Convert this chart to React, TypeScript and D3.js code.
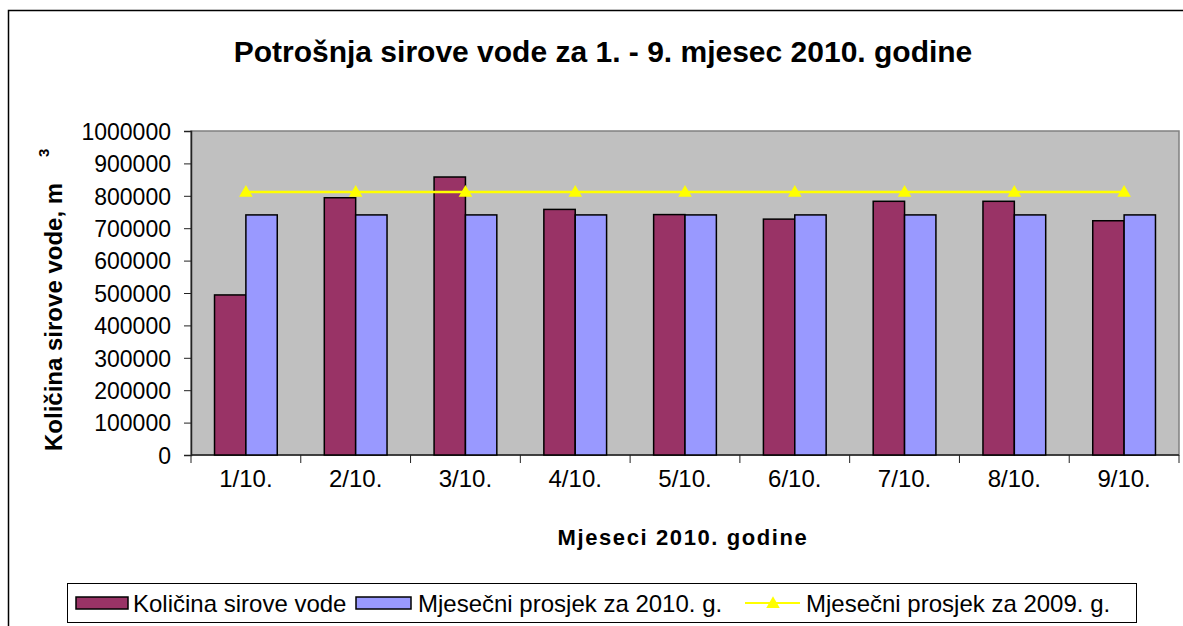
import { useEffect, useRef } from "react";
import * as d3 from "d3";

const months = ["1/10.", "2/10.", "3/10.", "4/10.", "5/10.", "6/10.", "7/10.", "8/10.", "9/10."];
const kolicina = [494000, 794000, 858000, 758000, 742000, 728000, 783000, 783000, 723000];
const prosjek2010 = [741000, 741000, 741000, 741000, 741000, 741000, 741000, 741000, 741000];
const prosjek2009 = [812000, 812000, 812000, 812000, 812000, 812000, 812000, 812000, 812000];
const yTicks = [0, 100000, 200000, 300000, 400000, 500000, 600000, 700000, 800000, 900000, 1000000];
const seriesNames = ["Količina sirove vode", "Mjesečni prosjek za 2010. g.", "Mjesečni prosjek za 2009. g."];

const MAROON = "#993366";
const BLUE = "#9999FF";
const YELLOW = "#FFFF00";
const FONT = "Liberation Sans, Arial, sans-serif";

const App = () => {
  const svgRef = useRef<SVGSVGElement>(null);

  useEffect(() => {
    const svg = d3.select(svgRef.current);
    svg.selectAll("*").remove();

    const left = 191, right = 1179, top = 131, bottom = 455;

    // outer frame of the chart
    svg.append("rect")
      .attr("x", 8.5).attr("y", 10.5)
      .attr("width", 1200).attr("height", 700)
      .attr("fill", "white").attr("stroke", "black").attr("stroke-width", 1.5);

    svg.append("text")
      .attr("x", 603).attr("y", 62)
      .attr("text-anchor", "middle")
      .style("font-family", FONT).style("font-weight", "bold").style("font-size", "30px")
      .text("Potrošnja sirove vode za 1. - 9. mjesec 2010. godine");

    const x0 = d3.scaleBand().domain(months).range([left, right])
      .paddingInner(1.5 / 3.5).paddingOuter(0.75 / 3.5);
    const x1 = d3.scaleBand().domain(["k", "p"]).range([0, x0.bandwidth()]);
    const xCat = d3.scaleBand().domain(months).range([left, right]);
    const y = d3.scaleLinear().domain([0, 1000000]).range([bottom, top]);

    // plot area
    svg.append("rect")
      .attr("x", left).attr("y", top)
      .attr("width", right - left).attr("height", bottom - top)
      .attr("fill", "#C0C0C0").attr("stroke", "#808080").attr("stroke-width", 1.5);

    // y axis
    const yAxis = d3.axisLeft(y).tickValues(yTicks).tickSize(7).tickPadding(13).tickFormat(d3.format("d"));
    const yg = svg.append("g").attr("transform", `translate(${left},0)`).call(yAxis);
    yg.select(".domain").attr("stroke", "#222").attr("stroke-width", 1.5);
    yg.selectAll(".tick line").attr("stroke", "#222");
    yg.selectAll(".tick text")
      .style("font-family", FONT).style("font-size", "23px").attr("fill", "black").attr("dy", "0.36em");

    // x axis
    const xg = svg.append("g").attr("transform", `translate(0,${bottom})`);
    xg.append("line").attr("x1", left).attr("x2", right).attr("y1", 0).attr("y2", 0)
      .attr("stroke", "#222").attr("stroke-width", 1.5);
    const boundaries = months.map(m => xCat(m) as number).concat([right]);
    xg.selectAll("line.tk").data(boundaries).join("line").attr("class", "tk")
      .attr("x1", d => d).attr("x2", d => d).attr("y1", 0).attr("y2", 8)
      .attr("stroke", "#222");
    xg.selectAll("text").data(months).join("text")
      .attr("x", d => (xCat(d) as number) + xCat.bandwidth() / 2)
      .attr("y", 32)
      .attr("text-anchor", "middle")
      .style("font-family", FONT).style("font-size", "24px")
      .text(d => d);

    // bars
    const bars = svg.append("g");
    months.forEach((m, i) => {
      const bx = x0(m) as number;
      bars.append("rect")
        .attr("x", bx + (x1("k") as number)).attr("y", y(kolicina[i]))
        .attr("width", x1.bandwidth()).attr("height", y(0) - y(kolicina[i]))
        .attr("fill", MAROON).attr("stroke", "black").attr("stroke-width", 1.5);
      bars.append("rect")
        .attr("x", bx + (x1("p") as number)).attr("y", y(prosjek2010[i]))
        .attr("width", x1.bandwidth()).attr("height", y(0) - y(prosjek2010[i]))
        .attr("fill", BLUE).attr("stroke", "black").attr("stroke-width", 1.5);
    });

    // 2009 average line
    const cx = (m: string) => (xCat(m) as number) + xCat.bandwidth() / 2;
    const line = d3.line<number>().x((_, i) => cx(months[i])).y(d => y(d));
    svg.append("path").datum(prosjek2009)
      .attr("d", line).attr("fill", "none").attr("stroke", YELLOW).attr("stroke-width", 2.5);
    const tri = d3.symbol().type(d3.symbolTriangle).size(80);
    svg.selectAll("path.mk").data(prosjek2009).join("path").attr("class", "mk")
      .attr("transform", (d, i) => `translate(${cx(months[i])},${y(d) + 1})`)
      .attr("d", tri).attr("fill", YELLOW);

    // axis titles
    svg.append("text")
      .attr("x", 683).attr("y", 545)
      .attr("text-anchor", "middle")
      .style("font-family", FONT).style("font-weight", "bold").style("font-size", "22px")
      .style("letter-spacing", "1.6px")
      .text("Mjeseci 2010. godine");

    const yt = svg.append("text")
      .attr("transform", "translate(62,451) rotate(-90)")
      .style("font-family", FONT).style("font-weight", "bold").style("font-size", "24px");
    yt.append("tspan").text("Količina sirove vode, m");
    yt.append("tspan").attr("dx", 26).attr("dy", -13).style("font-size", "15px").text("3");

    // legend
    const lg = svg.append("g");
    lg.append("rect").attr("x", 67.5).attr("y", 583.5).attr("width", 1069).attr("height", 39)
      .attr("fill", "white").attr("stroke", "black").attr("stroke-width", 1);
    const legendText = (tx: number, s: string) => lg.append("text")
      .attr("x", tx).attr("y", 612)
      .style("font-family", FONT).style("font-size", "24px").text(s);
    lg.append("rect").attr("x", 76).attr("y", 597).attr("width", 52).attr("height", 12)
      .attr("fill", MAROON).attr("stroke", "black").attr("stroke-width", 1.5);
    legendText(133, seriesNames[0]);
    lg.append("rect").attr("x", 356).attr("y", 597).attr("width", 55).attr("height", 12)
      .attr("fill", BLUE).attr("stroke", "black").attr("stroke-width", 1.5);
    legendText(418, seriesNames[1]);
    lg.append("line").attr("x1", 745).attr("x2", 800).attr("y1", 603).attr("y2", 603)
      .attr("stroke", YELLOW).attr("stroke-width", 2);
    lg.append("path").attr("transform", "translate(773,604)").attr("d", tri).attr("fill", YELLOW);
    legendText(806, seriesNames[2]);
  }, []);

  return (
    <svg ref={svgRef} width={1183} height={626}
      style={{ position: "absolute", left: 0, top: 0, display: "block" }} />
  );
};

export default App;
